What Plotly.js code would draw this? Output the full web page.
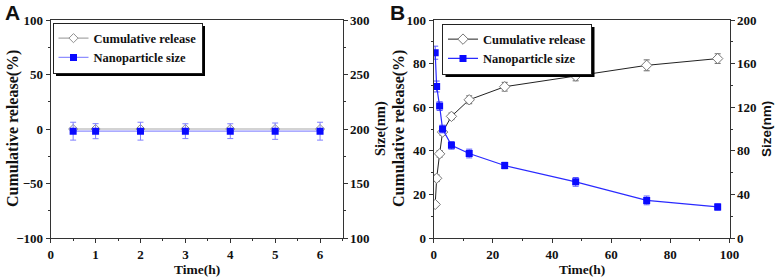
<!DOCTYPE html>
<html>
<head>
<meta charset="utf-8">
<script src="https://cdn.plot.ly/plotly-3.0.1.min.js"></script>
<style>
html,body{margin:0;padding:0;background:#fff;}
#chart{width:775px;height:278px;}
</style>
</head>
<body>
<div id="chart"></div>
<script>
// ---- Data ----
const timeA = [0.5, 1, 2, 3, 4, 5, 6];
const releaseA = [0, 0, 0, 0, 0, 0, 0];
const sizeA = [198, 198, 198, 198, 198, 198, 198];
const sizeErrA = [8.2, 6.9, 8.2, 6.8, 6.8, 7.5, 8.2];

const timeB = [0.5, 1, 2, 3, 6, 12, 24, 48, 72, 96];
const releaseB = [15.4, 27.4, 38.6, 48.6, 55.8, 63.4, 69.4, 74.3, 79.2, 82.3];
const releaseErrB = [1, 1.5, 1.5, 1.5, 1.5, 1.8, 2, 2.2, 2.5, 2.2];
const sizeB = [170, 139, 121, 100, 85, 77.5, 66.5, 51.5, 34.5, 28.5];
const sizeErrB = [6, 5, 4, 3.5, 3.5, 4, 3, 4, 4, 3];

const seriesNames = ['Cumulative release', 'Nanoparticle size'];
const panelLabels = ['A', 'B'];
const xTitle = 'Time(h)';
const yLeftTitle = 'Cumulative release(%)';
const yRightTitle = 'Size(nm)';

// ---- Styles ----
const W = 775, H = 278, MT = 20, MB = 40;
const px2x = p => p / W;
const px2y = p => (H - MB - p) / (H - MT - MB);
const serif = 'Liberation Serif';
const sans = 'Liberation Sans';
const axisColor = '#333';
const txt = '#111';
const blue = '#0a0aff';

function axisBase(extra) {
  return Object.assign({
    showline: true, linecolor: axisColor, linewidth: 1,
    ticks: 'outside', ticklen: 4, tickwidth: 1, tickcolor: axisColor,
    showgrid: false, zeroline: false,
    tickfont: {family: serif, size: 13, color: txt, weight: 'bold'},
    automargin: false, fixedrange: true
  }, extra);
}

const traces = [
  // Panel A
  {x: timeA, y: releaseA, xaxis: 'x', yaxis: 'y', name: seriesNames[0], legend: 'legend',
   mode: 'lines+markers', line: {color: '#a8a8a8', width: 1.2},
   marker: {symbol: 'diamond', size: 7, color: '#fff', line: {color: '#909090', width: 1}}},
  {x: timeA, y: sizeA, xaxis: 'x', yaxis: 'y2', name: seriesNames[1], legend: 'legend',
   mode: 'lines+markers', line: {color: '#8f8fff', width: 1.2},
   marker: {symbol: 'square', size: 7, color: blue},
   error_y: {type: 'data', array: sizeErrA, color: '#8080ff', thickness: 1, width: 3}},
  // Panel B
  {x: timeB, y: releaseB, xaxis: 'x2', yaxis: 'y3', name: seriesNames[0], legend: 'legend2',
   mode: 'lines+markers', line: {color: '#222', width: 1},
   marker: {symbol: 'diamond', size: 8, color: '#fff', line: {color: '#777', width: 1}},
   error_y: {type: 'data', array: releaseErrB, color: '#666', thickness: 1, width: 3}},
  {x: timeB, y: sizeB, xaxis: 'x2', yaxis: 'y4', name: seriesNames[1], legend: 'legend2',
   mode: 'lines+markers', line: {color: '#2a2aff', width: 1.2},
   marker: {symbol: 'square', size: 7, color: blue},
   error_y: {type: 'data', array: sizeErrB, color: '#5555ff', thickness: 1, width: 3}}
];

const legendBase = {
  xanchor: 'left', yanchor: 'top', bgcolor: '#fff', bordercolor: '#222', borderwidth: 1,
  font: {family: serif, size: 12.5, color: txt, weight: 'bold'},
  itemwidth: 30, tracegroupgap: 0, traceorder: 'normal'
};

function titleAnn(text, cx, cy, angle, font) {
  return {text: text, xref: 'paper', yref: 'paper', x: px2x(cx), y: px2y(cy),
    xanchor: 'center', yanchor: 'middle', textangle: angle, showarrow: false, font: font};
}
const serifTitle = {family: serif, size: 16, color: txt, weight: 'bold'};
const serifRight = {family: serif, size: 14.5, color: txt, weight: 'bold'};
const sansRight = {family: sans, size: 13.5, color: txt, weight: 'bold'};
const xTitleFont = {family: serif, size: 13.5, color: txt, weight: 'bold'};

const annotations = [
  titleAnn(xTitle, 197, 269, 0, xTitleFont),
  titleAnn(xTitle, 582, 269, 0, xTitleFont),
  titleAnn(yLeftTitle, 13, 129, -90, serifTitle),
  titleAnn(yRightTitle, 380, 129, -90, serifRight),
  titleAnn(yLeftTitle, 399, 129, -90, serifTitle),
  titleAnn(yRightTitle, 766, 129, -90, sansRight)
].concat(panelLabels.map((t, i) => ({
  text: t, xref: 'paper', yref: 'paper', x: px2x(i === 0 ? 3 : 388), y: px2y(-1),
  xanchor: 'left', yanchor: 'top', showarrow: false,
  font: {family: sans, size: 21, color: txt, weight: 'bold'}
})));

function shadow(x0, y0, x1, y1) {
  return {type: 'rect', xref: 'paper', yref: 'paper', layer: 'above',
    x0: px2x(x0), x1: px2x(x1), y0: px2y(y1), y1: px2y(y0),
    fillcolor: '#000', line: {width: 0}};
}

const layout = {
  width: W, height: H,
  margin: {l: 0, r: 0, t: MT, b: MB},
  paper_bgcolor: '#fff', plot_bgcolor: '#fff',
  showlegend: true,
  xaxis: axisBase({domain: [px2x(50.7), px2x(342.5)], range: [0, 6.5], dtick: 1, tick0: 0,
    anchor: 'y', mirror: true,
    minor: {dtick: 0.5, ticks: 'outside', ticklen: 2, tickcolor: axisColor}}),
  yaxis: axisBase({domain: [0, 1], range: [-100, 100], dtick: 50, anchor: 'x', mirror: true,
    minor: {dtick: 25, ticks: 'outside', ticklen: 2, tickcolor: axisColor}}),
  yaxis2: axisBase({range: [100, 300], dtick: 50, overlaying: 'y', side: 'right', anchor: 'x',
    minor: {dtick: 25, ticks: 'outside', ticklen: 2, tickcolor: axisColor}}),
  xaxis2: axisBase({domain: [px2x(433.7), px2x(729.5)], range: [0, 100], dtick: 20, tick0: 0,
    anchor: 'y3', mirror: true,
    minor: {dtick: 10, ticks: 'outside', ticklen: 2, tickcolor: axisColor}}),
  yaxis3: axisBase({domain: [0, 1], range: [0, 100], dtick: 20, anchor: 'x2', mirror: true,
    minor: {dtick: 10, ticks: 'outside', ticklen: 2, tickcolor: axisColor}}),
  yaxis4: axisBase({range: [0, 200], dtick: 40, overlaying: 'y3', side: 'right', anchor: 'x2',
    minor: {dtick: 20, ticks: 'outside', ticklen: 2, tickcolor: axisColor}}),
  legend: Object.assign({}, legendBase, {x: px2x(52.5), y: px2y(22.5)}),
  legend2: Object.assign({}, legendBase, {x: px2x(442), y: px2y(23.5)}),
  annotations: annotations,
  shapes: []
};

Plotly.newPlot('chart', traces, layout, {displayModeBar: false}).then(gd => {
  // drop shadows behind the legend boxes, sized from the rendered legends
  const root = gd.getBoundingClientRect();
  const shapes = [];
  ['legend', 'legend2'].forEach(id => {
    const g = gd.querySelector('g.' + id);
    if (!g) return;
    const rects = g.querySelectorAll('rect');
    let r = null;
    rects.forEach(rc => {
      const b = rc.getBoundingClientRect();
      if (b.width > 50 && (!r || b.width * b.height > r.width * r.height)) r = b;
    });
    if (!r) r = g.getBoundingClientRect();
    if (!r.width) return;
    shapes.push(shadow(r.left - root.left + 3, r.top - root.top + 3,
                       r.right - root.left + 3, r.bottom - root.top + 3));
  });
  if (shapes.length) return Plotly.relayout(gd, {shapes: shapes});
});
</script>
</body>
</html>
